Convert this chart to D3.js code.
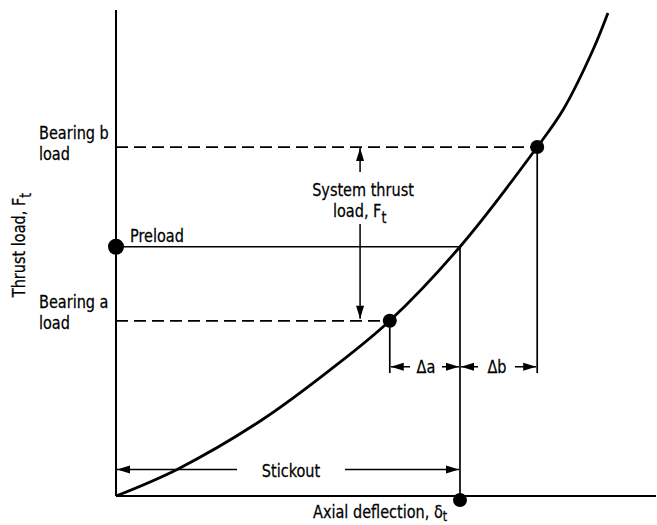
<!DOCTYPE html>
<html><head><meta charset="utf-8">
<script src="https://cdn.jsdelivr.net/npm/d3@7"></script>
<style>
html,body{margin:0;padding:0;background:#fff;}
svg text{font-family:"DejaVu Sans Condensed","Liberation Sans Narrow","Arial Narrow",sans-serif;fill:#000;stroke:#000;stroke-width:0.25px;}
</style></head>
<body><svg id="c" width="657" height="525"></svg>
<script>
// Load–deflection curve (axial deflection %, thrust load %)
const curveDeflection = [0, 11.5, 27.0, 39.6, 50.7, 63.7, 78.0, 82.8, 88.3, 91.1];
const curveLoad       = [0, 5.6, 15.7, 26.0, 36.2, 51.5, 72.1, 79.8, 92.1, 99.8];
// Key points
const pointNames      = ["Bearing a", "Preload", "Bearing b"];
const pointDeflection = [50.7, 63.7, 78.0];
const pointLoad       = [36.2, 51.5, 72.1];
// Annotation levels
const systemArrowX = 45.2;
const deltaLevel = 26.7, dropLevel = 25.4, stickoutLevel = 5.5;

const svg = d3.select("#c");
const x = d3.scaleLinear().domain([0, 100]).range([116, 656]);
const y = d3.scaleLinear().domain([0, 100]).range([496, 12]);

// axes
svg.append("line").attr("x1", x(0)).attr("x2", x(100)).attr("y1", y(0)).attr("y2", y(0)).attr("stroke", "#000").attr("stroke-width", 2);
svg.append("line").attr("x1", x(0)).attr("x2", x(0)).attr("y1", y(0)).attr("y2", y(100.4)).attr("stroke", "#000").attr("stroke-width", 2);

// curve
const pts = curveDeflection.map((d, i) => [d, curveLoad[i]]);
svg.append("path").datum(pts)
  .attr("d", d3.line().x(d => x(d[0])).y(d => y(d[1])).curve(d3.curveCatmullRom))
  .attr("fill", "none").attr("stroke", "#000").attr("stroke-width", 2.8);

const [ia, ip, ib] = [0, 1, 2];
// dashed lines for bearing loads
[ia, ib].forEach(i => {
  svg.append("line").attr("x1", x(0)).attr("x2", x(pointDeflection[i])).attr("y1", y(pointLoad[i])).attr("y2", y(pointLoad[i]))
    .attr("stroke", "#000").attr("stroke-width", 1.7).attr("stroke-dasharray", "12,6");
  svg.append("line").attr("x1", x(pointDeflection[i])).attr("x2", x(pointDeflection[i])).attr("y1", y(pointLoad[i])).attr("y2", y(dropLevel))
    .attr("stroke", "#000").attr("stroke-width", 1.7);
});
// preload lines
svg.append("line").attr("x1", x(0)).attr("x2", x(pointDeflection[ip])).attr("y1", y(pointLoad[ip])).attr("y2", y(pointLoad[ip]))
  .attr("stroke", "#000").attr("stroke-width", 1.7);
svg.append("line").attr("x1", x(pointDeflection[ip])).attr("x2", x(pointDeflection[ip])).attr("y1", y(pointLoad[ip])).attr("y2", y(0))
  .attr("stroke", "#000").attr("stroke-width", 1.7);

// dots
[ia, ib].forEach(i => svg.append("circle").attr("cx", x(pointDeflection[i])).attr("cy", y(pointLoad[i])).attr("r", 7));
svg.append("circle").attr("cx", x(0)).attr("cy", y(pointLoad[ip])).attr("r", 8);
svg.append("circle").attr("cx", x(pointDeflection[ip])).attr("cy", y(0) + 4).attr("r", 7);

// arrow helper: line from (x1,y1) to tip (x2,y2) with filled head
function arrow(x1, y1, x2, y2) {
  svg.append("line").attr("x1", x1).attr("y1", y1).attr("x2", x2).attr("y2", y2).attr("stroke", "#000").attr("stroke-width", 1.5);
  const a = Math.atan2(y2 - y1, x2 - x1), L = 13, W = 4;
  const bx = x2 - L * Math.cos(a), by = y2 - L * Math.sin(a);
  const px = -Math.sin(a) * W, py = Math.cos(a) * W;
  svg.append("path").attr("d", `M${x2},${y2}L${bx + px},${by + py}L${bx - px},${by - py}Z`).attr("fill", "#000");
}

// system thrust arrows
arrow(x(systemArrowX), 172, x(systemArrowX), y(pointLoad[ib]) + 1);
arrow(x(systemArrowX), 224, x(systemArrowX), y(pointLoad[ia]) - 2);

// delta arrows
const dy = y(deltaLevel);
arrow(410, dy, x(pointDeflection[ia]) + 1, dy);
arrow(442, dy, x(pointDeflection[ip]) - 1, dy);
arrow(478, dy, x(pointDeflection[ip]) + 1, dy);
arrow(515, dy, x(pointDeflection[ib]) - 1, dy);

// stickout arrows
const sy = y(stickoutLevel);
arrow(237, sy, x(0) + 1, sy);
arrow(345, sy, x(pointDeflection[ip]) - 1, sy);

// text (narrow, tall face: DejaVu Condensed compressed horizontally)
const fs = 18.5, sx = 0.87;
function txt(lines, tx, ty, anchor, lh) {
  const t = svg.append("text").attr("transform", `translate(${tx},${ty}) scale(${sx},1)`)
    .attr("font-size", fs).attr("text-anchor", anchor || "start");
  lines.forEach((ln, k) => {
    const sp = t.append("tspan").attr("x", 0).attr("y", k * (lh || 21));
    ln.forEach(part => {
      if (typeof part === "string") sp.append("tspan").text(part);
      else sp.append("tspan").attr("dy", part.dy).attr("font-size", part.fs).text(part.t);
    });
  });
  return t;
}
txt([["Bearing b"], ["load"]], 39, 139);
txt([["Bearing a"], ["load"]], 39, 308);
txt([["Preload"]], 130, 242);
txt([["System thrust"]], 363, 196, "middle");
txt([["load, F", {t: "t", dy: 6, fs: 16}]], 333, 217);
txt([["Stickout"]], 291, 477, "middle");
txt([["\u0394a"]], 426, 373, "middle");
txt([["\u0394b"]], 497, 373, "middle");
txt([["Axial deflection, \u03b4", {t: "t", dy: 3, fs: 14}]], 313, 518);
svg.append("text").attr("transform", `translate(25,245) rotate(-90) scale(${sx},1)`)
  .attr("text-anchor", "middle").attr("font-size", fs)
  .call(t => { t.append("tspan").text("Thrust load, F"); t.append("tspan").attr("dy", 6).attr("font-size", 16).text("t"); });
</script></body></html>
